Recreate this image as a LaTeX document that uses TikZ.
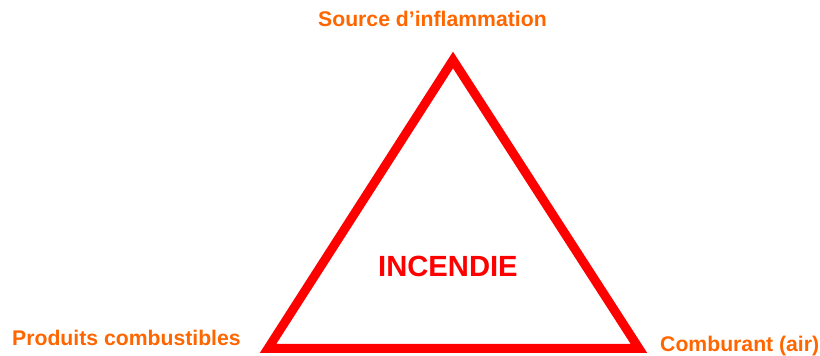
\documentclass[tikz,border=0pt]{standalone}
\usepackage{fontspec}
\setmainfont{Liberation Sans}
\definecolor{labelorange}{RGB}{255,102,0}
\definecolor{firered}{RGB}{255,0,0}
\begin{document}
\begin{tikzpicture}[x=1pt,y=1pt,
  lbl/.style={inner sep=0pt, anchor=base west, text=labelorange, font=\fontsize{21.2}{25}\selectfont\bfseries},
  title/.style={inner sep=0pt, anchor=base west, text=firered, font=\fontsize{29.2}{34}\selectfont\bfseries},
  tri/.style={draw=firered, line width=9pt, line join=miter}]
\useasboundingbox (0,0) rectangle (820,356);
\coordinate (apex) at (453,296);
\coordinate (bl) at (268,7.5);
\coordinate (br) at (639,7.5);
\draw[tri] (apex) -- (br) -- (bl) -- cycle;
\node[lbl] (source) at (318,329) {Source d’inflammation};
\node[lbl] (produits) at (12,10.3) {Produits combustibles};
\node[lbl] (comburant) at (660,4.3) {Comburant (air)};
\node[title] (incendie) at (378,79.3) {INCENDIE};
\end{tikzpicture}
\end{document}
